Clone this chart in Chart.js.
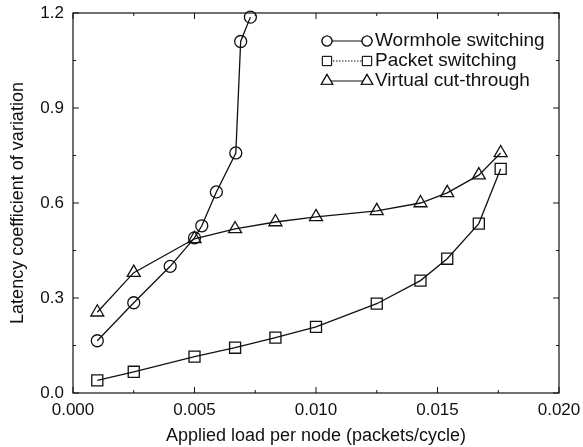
<!DOCTYPE html>
<html>
<head>
<meta charset="utf-8">
<script src="https://cdn.jsdelivr.net/npm/chart.js@4/dist/chart.umd.min.js"></script>
<style>
  html, body { margin: 0; padding: 0; background: #fff; }
  #wrap { width: 583px; height: 447px; position: relative; }
</style>
</head>
<body>
<div id="wrap"><canvas id="cvChart"></canvas></div>
<script>
// --- data ---
const seriesNames = ['Wormhole switching', 'Packet switching', 'Virtual cut-through'];

const loadWormhole = [0.001, 0.0025, 0.004, 0.005, 0.0053, 0.0059, 0.0067, 0.0069, 0.0073];
const cvWormhole   = [0.165, 0.285, 0.400, 0.490, 0.528, 0.635, 0.758, 1.110, 1.187];

const loadPacket = [0.001, 0.0025, 0.005, 0.00667, 0.00833, 0.010, 0.0125, 0.0143, 0.0154, 0.0167, 0.0176];
const cvPacket   = [0.040, 0.067, 0.115, 0.143, 0.175, 0.209, 0.282, 0.355, 0.424, 0.535, 0.708];

const loadVct = [0.001, 0.0025, 0.005, 0.00667, 0.00833, 0.010, 0.0125, 0.0143, 0.0154, 0.0167, 0.0176];
const cvVct   = [0.255, 0.380, 0.487, 0.518, 0.540, 0.556, 0.575, 0.600, 0.632, 0.688, 0.758];

const xTicks = [0, 0.005, 0.010, 0.015, 0.020];
const yTicks = [0, 0.3, 0.6, 0.9, 1.2];

const FONT = '"Liberation Sans", Arial, Helvetica, sans-serif';
const INK = '#111';

function pts(xs, ys) {
  return xs.map((x, i) => ({ x: x, y: ys[i] }));
}

const styles = [
  { pointStyle: 'circle', radius: 6, legendRadius: 5, dash: [] },
  { pointStyle: 'rect', radius: 7.8, legendRadius: 6.5, dash: [1.5, 1.5] },
  { pointStyle: 'triangle', radius: 7.5, legendRadius: 6.5, dash: [] }
];

function makeSet(i, data) {
  return {
    label: seriesNames[i],
    data: data,
    borderColor: INK,
    borderWidth: 1.3,
    pointStyle: styles[i].pointStyle,
    pointRadius: styles[i].radius,
    pointBorderWidth: 1.3,
    pointBorderColor: INK,
    pointBackgroundColor: 'rgba(0,0,0,0)',
    showLine: true,
    tension: 0,
    clip: false
  };
}

// keep tick-label overflow from pushing the plot area around
function noOverflow(s) {
  s.paddingTop = 0;
  s.paddingBottom = 0;
  s.paddingLeft = 0;
  s.paddingRight = 0;
}

// frame, inward ticks and the line-with-markers legend
const framePlugin = {
  id: 'frame',
  afterDatasetsDraw(chart) {
    const ctx = chart.ctx;
    const a = chart.chartArea;
    const xs = chart.scales.x, ys = chart.scales.y;
    ctx.save();
    ctx.strokeStyle = INK;
    ctx.lineWidth = 1.2;
    ctx.strokeRect(a.left, a.top, a.right - a.left, a.bottom - a.top);

    ctx.lineWidth = 1;
    ctx.beginPath();
    for (let v = 0; v <= 0.0201; v += 0.0025) {
      const px = xs.getPixelForValue(v);
      const len = Math.round(v / 0.0025) % 2 === 0 ? 6 : 3;
      ctx.moveTo(px, a.bottom); ctx.lineTo(px, a.bottom - len);
      ctx.moveTo(px, a.top); ctx.lineTo(px, a.top + len);
    }
    for (let v = 0; v <= 1.201; v += 0.15) {
      const py = ys.getPixelForValue(v);
      const len = Math.round(v / 0.15) % 2 === 0 ? 6 : 3;
      ctx.moveTo(a.left, py); ctx.lineTo(a.left + len, py);
      ctx.moveTo(a.right, py); ctx.lineTo(a.right - len, py);
    }
    ctx.stroke();

    // legend
    const x0 = a.right - 232, x1 = a.right - 192, tx = a.right - 184;
    chart.data.datasets.forEach((ds, i) => {
      const y = a.top + 28 + i * 20;
      ctx.strokeStyle = INK;
      ctx.lineWidth = i === 1 ? 1 : 1.2;
      ctx.setLineDash(styles[i].dash);
      ctx.beginPath();
      ctx.moveTo(x0, y); ctx.lineTo(x1, y);
      ctx.stroke();
      ctx.setLineDash([]);
      const opt = { pointStyle: styles[i].pointStyle, radius: styles[i].legendRadius, borderWidth: 1.2 };
      ctx.fillStyle = '#fff';
      Chart.helpers.drawPoint(ctx, opt, x0, y);
      ctx.fill();
      ctx.stroke();
      Chart.helpers.drawPoint(ctx, opt, x1, y);
      ctx.fill();
      ctx.stroke();
      ctx.fillStyle = INK;
      ctx.font = '19px ' + FONT;
      ctx.textBaseline = 'middle';
      ctx.textAlign = 'left';
      ctx.fillText(ds.label, tx, y);
    });
    ctx.restore();
  }
};

new Chart(document.getElementById('cvChart'), {
  type: 'scatter',
  data: {
    datasets: [
      makeSet(0, pts(loadWormhole, cvWormhole)),
      makeSet(1, pts(loadPacket, cvPacket)),
      makeSet(2, pts(loadVct, cvVct))
    ]
  },
  options: {
    responsive: true,
    maintainAspectRatio: false,
    animation: false,
    layout: { padding: { top: 13, right: 24, left: 0, bottom: 0 } },
    plugins: {
      legend: { display: false },
      tooltip: { enabled: false }
    },
    scales: {
      x: {
        type: 'linear',
        min: 0,
        max: 0.02,
        afterBuildTicks: (s) => { s.ticks = xTicks.map(v => ({ value: v })); },
        afterFit: (s) => { s.height = 54; noOverflow(s); },
        grid: { display: false, drawTicks: false },
        border: { display: false },
        ticks: {
          padding: 7,
          color: INK,
          font: { family: FONT, size: 17 },
          maxRotation: 0,
          callback: (v) => Number(v).toFixed(3)
        },
        title: {
          display: true,
          text: 'Applied load per node (packets/cycle)',
          color: INK,
          font: { family: FONT, size: 18 },
          padding: { top: 0, bottom: 0 }
        }
      },
      y: {
        type: 'linear',
        min: 0,
        max: 1.2,
        afterBuildTicks: (s) => { s.ticks = yTicks.map(v => ({ value: v })); },
        afterFit: (s) => { s.width = 73; noOverflow(s); },
        grid: { display: false, drawTicks: false },
        border: { display: false },
        ticks: {
          padding: 9,
          color: INK,
          font: { family: FONT, size: 17 },
          callback: (v) => Number(v).toFixed(1)
        },
        title: {
          display: true,
          text: 'Latency coefficient of variation',
          color: INK,
          font: { family: FONT, size: 18 },
          padding: { top: 7, bottom: 0 }
        }
      }
    }
  },
  plugins: [framePlugin]
});
</script>
</body>
</html>
